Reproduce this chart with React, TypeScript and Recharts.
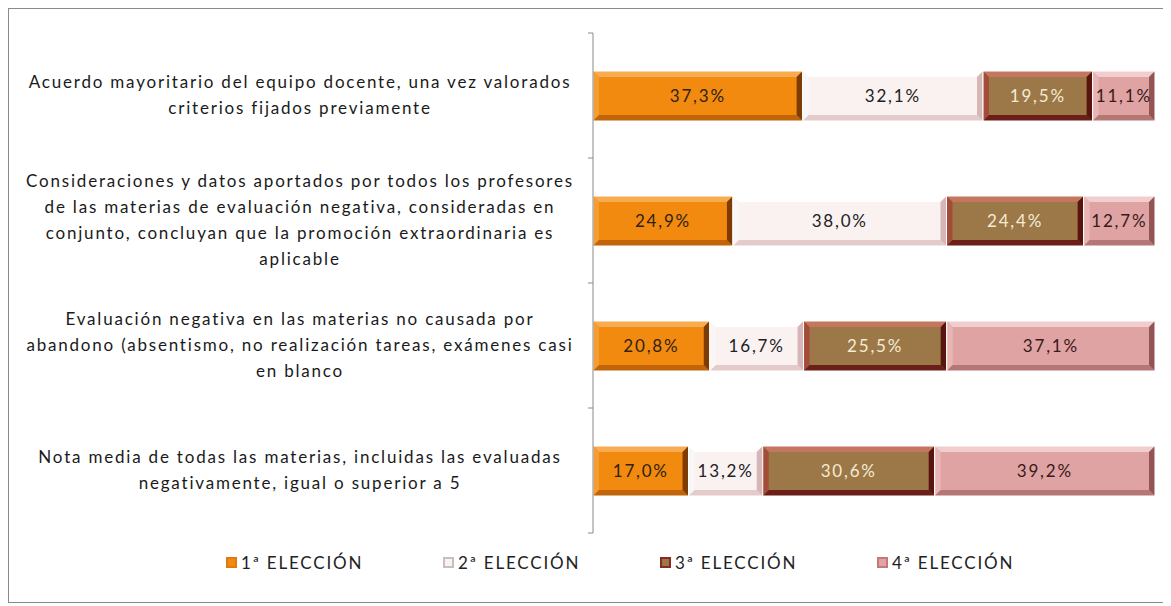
import { BarChart, Bar, XAxis, YAxis, Legend, LabelList } from "recharts";

const categories = [
  "Acuerdo mayoritario del equipo docente, una vez valorados\ncriterios fijados previamente",
  "Consideraciones y datos aportados por todos los profesores\nde las materias  de evaluación negativa, consideradas en\nconjunto, concluyan que la promoción extraordinaria es\naplicable",
  "Evaluación negativa en las materias no causada por\nabandono (absentismo, no realización tareas, exámenes casi\nen blanco",
  "Nota media de todas las materias, incluidas las evaluadas\nnegativamente, igual o superior a 5",
];
const seriesNames = ["1ª ELECCIÓN", "2ª ELECCIÓN", "3ª ELECCIÓN", "4ª ELECCIÓN"];
const eleccion1 = [37.3, 24.9, 20.8, 17.0];
const eleccion2 = [32.1, 38.0, 16.7, 13.2];
const eleccion3 = [19.5, 24.4, 25.5, 30.6];
const eleccion4 = [11.1, 12.7, 37.1, 39.2];

const data = categories.map((name, i) => ({
  name,
  e1: eleccion1[i],
  e2: eleccion2[i],
  e3: eleccion3[i],
  e4: eleccion4[i],
}));

const FONT = "Lato, 'Open Sans', sans-serif";
const AXIS_W = 584;
const AXIS_COLOR = "#8a8a8a";

// face, top, left, bottom, right, label colour, legend swatch
const PAL = [
  { face: "#F28A10", top: "#F7AC52", left: "#F59C34", bottom: "#C2650A", right: "#7E3C04", text: "#2E2210", sw: "#E07A10" },
  { face: "#FAF1F1", top: "#FFFFFF", left: "#FBF6F6", bottom: "#E3CBCB", right: "#D6B6B6", text: "#222222", sw: "#C8C0C0" },
  { face: "#9C7848", top: "#C4765E", left: "#A44C3A", bottom: "#6C1F18", right: "#581510", text: "#F4EBD2", sw: "#8A2A22" },
  { face: "#DFA3A3", top: "#F2CDCD", left: "#E8B4B4", bottom: "#B57676", right: "#935454", text: "#3A1A1A", sw: "#C47878" },
];
const KEYS = ["e1", "e2", "e3", "e4"];

function Bevel(props: any) {
  const { x, y, width, height, pal } = props;
  if (!width || width <= 0) return null;
  const b = Math.min(6, width / 4, height / 4);
  return (
    <g>
      <rect x={x} y={y} width={width} height={height} fill={pal.face} />
      <polygon points={`${x},${y} ${x + width},${y} ${x + width - b},${y + b} ${x + b},${y + b}`} fill={pal.top} />
      <polygon points={`${x},${y} ${x + b},${y + b} ${x + b},${y + height - b} ${x},${y + height}`} fill={pal.left} />
      <polygon points={`${x},${y + height} ${x + b},${y + height - b} ${x + width - b},${y + height - b} ${x + width},${y + height}`} fill={pal.bottom} />
      <polygon points={`${x + width},${y} ${x + width},${y + height} ${x + width - b},${y + height - b} ${x + width - b},${y + b}`} fill={pal.right} />
      <rect x={x} y={y} width={width} height={height} fill="none" stroke="#ffffff" strokeWidth={1} />
    </g>
  );
}

// category label (centred, multi-line) plus the boundary tick marks of the band
function CategoryTick(props: any) {
  const { y, payload, index, visibleTicksCount } = props;
  const half = payload && payload.offset ? payload.offset : 62.5;
  const lines: string[] = String(payload.value).split("\n");
  const lh = 26;
  const y0 = y - ((lines.length - 1) * lh) / 2;
  const last = index === (visibleTicksCount ?? categories.length) - 1;
  return (
    <g>
      <line x1={AXIS_W - 5} x2={AXIS_W} y1={y - half} y2={y - half} stroke={AXIS_COLOR} />
      {last && <line x1={AXIS_W - 5} x2={AXIS_W} y1={y + half} y2={y + half} stroke={AXIS_COLOR} />}
      <text x={291} y={y0} textAnchor="middle" fontFamily={FONT} fontSize={17} letterSpacing={1.8} fill="#1a1a1a">
        {lines.map((l, i) => (
          <tspan key={i} x={291} y={y0 + i * lh} dy="0.35em">
            {l}
          </tspan>
        ))}
      </text>
    </g>
  );
}

function LegendContent() {
  return (
    <div style={{ height: 58, display: "flex", alignItems: "center", paddingLeft: 217, fontFamily: FONT, fontSize: 17, letterSpacing: 1.8, color: "#222" }}>
      {seriesNames.map((n, i) => (
        <div key={n} style={{ width: 217, display: "flex", alignItems: "center" }}>
          <svg width={11} height={11} style={{ marginRight: 4 }}>
            <rect x={0} y={0} width={11} height={11} fill={PAL[i].sw} />
            <rect x={2} y={2} width={7} height={7} fill={PAL[i].face} />
          </svg>
          <span>{n}</span>
        </div>
      ))}
    </div>
  );
}

const fmt = (v: any) => Number(v).toFixed(1).replace(".", ",") + "%";

export default function App() {
  return (
    <div
      style={{
        width: 1163,
        height: 593,
        borderTop: "1px solid #8a8a8a",
        borderLeft: "1px solid #8a8a8a",
        borderBottom: "1px solid #8a8a8a",
        background: "#fff",
      }}
    >
      <BarChart
        width={1162}
        height={593}
        data={data}
        layout="vertical"
        stackOffset="expand"
        margin={{ top: 24, right: 16, bottom: 11, left: 0 }}
      >
        <XAxis type="number" hide domain={[0, 1]} />
        <YAxis
          type="category"
          dataKey="name"
          width={AXIS_W}
          axisLine={{ stroke: AXIS_COLOR }}
          tickLine={false}
          interval={0}
          tick={<CategoryTick />}
        />
        <Legend verticalAlign="bottom" height={58} content={<LegendContent />} />
        {KEYS.map((k, i) => (
          <Bar
            key={k}
            dataKey={k}
            name={seriesNames[i]}
            stackId="a"
            barSize={50}
            fill={PAL[i].face}
            isAnimationActive={false}
            shape={(p: any) => <Bevel {...p} pal={PAL[i]} />}
          >
            <LabelList dataKey={k} position="center" formatter={fmt} fill={PAL[i].text} fontSize={17} letterSpacing={1.8} fontFamily={FONT} />
          </Bar>
        ))}
      </BarChart>
    </div>
  );
}
